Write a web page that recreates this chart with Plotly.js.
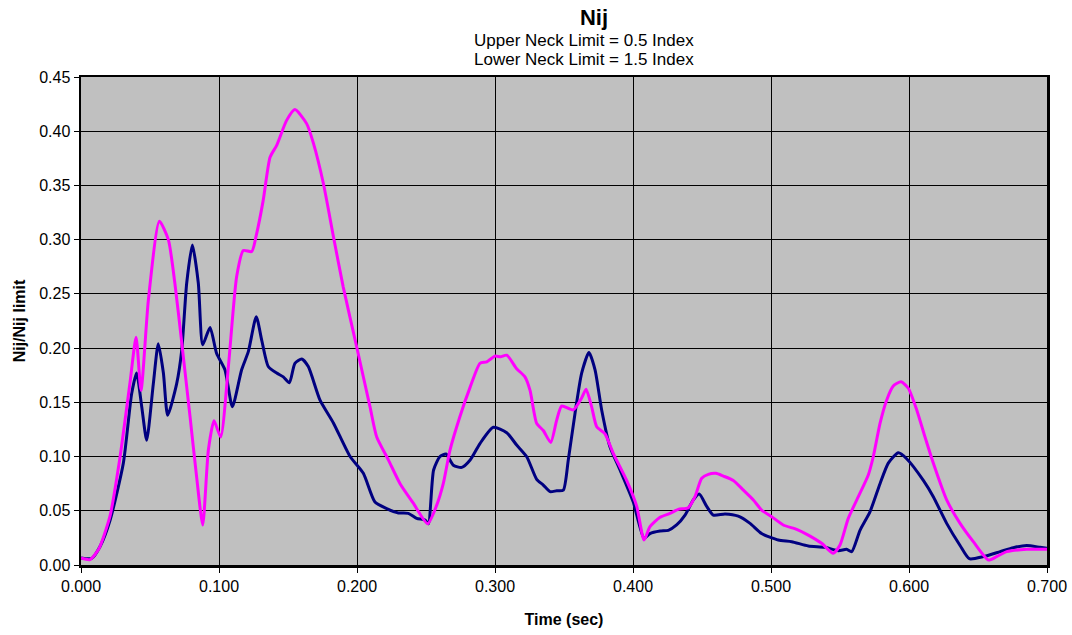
<!DOCTYPE html>
<html>
<head>
<meta charset="utf-8">
<script src="https://cdn.plot.ly/plotly-3.0.1.min.js"></script>
<style>html,body{margin:0;padding:0;background:#fff;}#chart{width:1072px;height:635px;}</style>
</head>
<body>
<div id="chart"></div>
<script>
const upperTime = [0.000,0.0077,0.0138,0.021,0.0307,0.0367,0.0403,0.044,0.0476,0.0524,0.056,0.0597,0.0628,0.0693,0.073,0.0766,0.0807,0.085,0.0882,0.0935,0.0983,0.1043,0.1097,0.1164,0.1213,0.1270,0.131,0.1357,0.1418,0.1466,0.151,0.155,0.160,0.1647,0.1732,0.1829,0.195,0.2046,0.213,0.2215,0.230,0.2372,0.2432,0.2493,0.2517,0.2555,0.260,0.2645,0.2698,0.2759,0.282,0.2891,0.2988,0.3085,0.3157,0.323,0.3302,0.335,0.3399,0.3447,0.3495,0.3531,0.358,0.3628,0.3681,0.3725,0.3773,0.3833,0.3906,0.4002,0.408,0.4123,0.4196,0.4256,0.4316,0.4377,0.4437,0.448,0.4534,0.4582,0.4667,0.4763,0.4848,0.4932,0.5053,0.515,0.527,0.5391,0.5488,0.5548,0.5585,0.5645,0.5717,0.579,0.585,0.5923,0.5983,0.6104,0.6176,0.6273,0.637,0.6437,0.6539,0.666,0.6756,0.6853,0.695,0.700];
const upperNij = [0.0065,0.006,0.017,0.041,0.094,0.158,0.177,0.146,0.115,0.167,0.204,0.177,0.138,0.167,0.198,0.26,0.295,0.26,0.203,0.219,0.195,0.18,0.146,0.18,0.197,0.229,0.207,0.183,0.177,0.1735,0.168,0.186,0.190,0.183,0.152,0.131,0.100,0.0845,0.058,0.052,0.048,0.0476,0.043,0.0415,0.038,0.0876,0.0998,0.1023,0.092,0.090,0.0968,0.112,0.127,0.122,0.1106,0.0998,0.079,0.0737,0.0676,0.0685,0.069,0.0968,0.14,0.177,0.196,0.18,0.143,0.109,0.0876,0.058,0.0246,0.029,0.0313,0.032,0.0369,0.046,0.06,0.0654,0.054,0.046,0.047,0.045,0.0384,0.029,0.023,0.0215,0.0175,0.0163,0.0132,0.0145,0.0123,0.032,0.049,0.075,0.094,0.1035,0.098,0.078,0.063,0.0384,0.018,0.0058,0.0077,0.0123,0.016,0.018,0.0163,0.0154];

const lowerTime = [0.000,0.0065,0.013,0.021,0.028,0.0355,0.0399,0.0435,0.0488,0.0568,0.0633,0.068,0.073,0.079,0.0838,0.0882,0.0923,0.0964,0.1012,0.1068,0.1128,0.1176,0.1237,0.127,0.132,0.137,0.1418,0.149,0.155,0.1635,0.1684,0.1756,0.1829,0.190,0.1998,0.2094,0.2143,0.2227,0.2312,0.2408,0.2512,0.2577,0.2625,0.2674,0.2746,0.282,0.2891,0.2940,0.300,0.3040,0.3085,0.3157,0.3217,0.3254,0.3302,0.335,0.3404,0.3447,0.3483,0.3567,0.3628,0.366,0.370,0.3737,0.3797,0.3857,0.3954,0.4027,0.408,0.4123,0.4196,0.4268,0.4328,0.4401,0.4449,0.4498,0.4546,0.4601,0.4655,0.4727,0.480,0.4872,0.4932,0.5005,0.5089,0.5186,0.527,0.5367,0.5451,0.550,0.556,0.5633,0.5705,0.5741,0.579,0.5838,0.5886,0.5942,0.5995,0.6056,0.6116,0.6176,0.6273,0.637,0.6466,0.6575,0.6635,0.6708,0.6853,0.700];
const lowerNij = [0.0065,0.005,0.015,0.045,0.097,0.168,0.210,0.161,0.244,0.317,0.300,0.26,0.205,0.137,0.081,0.037,0.106,0.133,0.118,0.183,0.266,0.290,0.289,0.304,0.336,0.376,0.387,0.410,0.420,0.407,0.389,0.352,0.303,0.2565,0.201,0.146,0.118,0.097,0.075,0.057,0.038,0.055,0.075,0.106,0.137,0.164,0.186,0.1874,0.1926,0.192,0.1935,0.181,0.1735,0.161,0.1306,0.124,0.113,0.1336,0.1465,0.143,0.154,0.162,0.146,0.1275,0.121,0.103,0.078,0.054,0.023,0.0353,0.044,0.0476,0.0513,0.0528,0.063,0.080,0.0836,0.0845,0.082,0.078,0.069,0.060,0.0507,0.0445,0.0369,0.0329,0.0276,0.020,0.0108,0.0184,0.043,0.063,0.083,0.0998,0.1306,0.152,0.165,0.169,0.163,0.143,0.118,0.094,0.060,0.0384,0.0215,0.0046,0.0077,0.0123,0.0145,0.0145];

const titleText = 'Nij';
const subtitleLines = ['Upper Neck Limit = 0.5 Index', 'Lower Neck Limit = 1.5 Index'];
const xTitle = 'Time (sec)';
const yTitle = 'Nij/Nij limit';

const font = 'Liberation Sans, Arial, sans-serif';

const traces = [
  {x: upperTime, y: upperNij, type: 'scatter', mode: 'lines', name: 'Upper Neck',
   line: {color: '#000080', width: 3, shape: 'spline', smoothing: 0.6}},
  {x: lowerTime, y: lowerNij, type: 'scatter', mode: 'lines', name: 'Lower Neck',
   line: {color: '#FF00FF', width: 3, shape: 'spline', smoothing: 0.6}}
];

const layout = {
  width: 1072, height: 635,
  margin: {l: 81, r: 25, t: 77, b: 70},
  paper_bgcolor: '#ffffff',
  plot_bgcolor: '#C0C0C0',
  showlegend: false,
  font: {family: font, size: 16, color: '#000'},
  title: {text: '<b>' + titleText + '</b>', xref: 'container', x: 594 / 1072, xanchor: 'center',
          y: 1 - 17 / 635, yanchor: 'middle',
          font: {family: font, size: 22, color: '#000'}},
  annotations: subtitleLines.map((t, i) => ({
    text: t, xref: 'paper', yref: 'paper', x: (584 - 81) / 966, xanchor: 'center',
    y: 1 + (37 - i * 20) / 488, yanchor: 'middle', showarrow: false,
    font: {family: font, size: 17, color: '#000'}
  })),
  xaxis: {
    range: [0, 0.7], dtick: 0.1, tick0: 0, tickformat: '.3f',
    showgrid: true, gridcolor: '#000', gridwidth: 1,
    showline: true, linecolor: '#000', linewidth: 2.5, mirror: true,
    ticks: 'outside', ticklen: 5, tickcolor: '#000', zeroline: false,
    tickfont: {family: font, size: 16},
    title: {text: '<b>' + xTitle + '</b>', font: {family: font, size: 16}, standoff: 20}
  },
  yaxis: {
    range: [0, 0.45], dtick: 0.05, tick0: 0, tickformat: '.2f',
    showgrid: true, gridcolor: '#000', gridwidth: 1,
    showline: true, linecolor: '#000', linewidth: 2.5, mirror: true,
    ticks: 'outside', ticklen: 5, tickcolor: '#000', zeroline: false,
    tickfont: {family: font, size: 16},
    title: {text: '<b>' + yTitle + '</b>', font: {family: font, size: 16}, standoff: 10}
  }
};

Plotly.newPlot('chart', traces, layout, {displayModeBar: false, staticPlot: true});
</script>
</body>
</html>
